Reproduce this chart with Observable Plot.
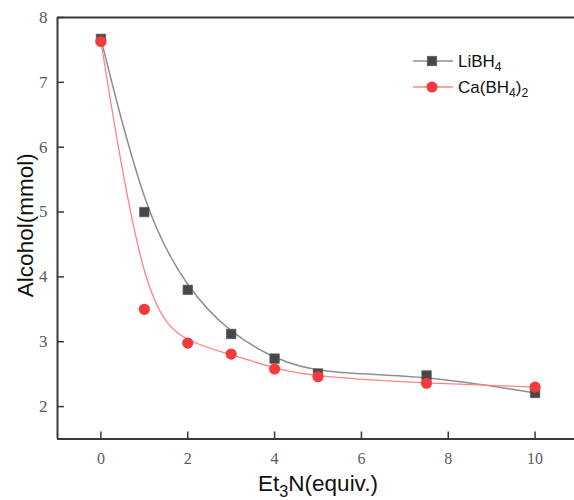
<!DOCTYPE html>
<html>
<head>
<meta charset="utf-8">
<script src="https://cdn.jsdelivr.net/npm/d3@7"></script>
<script src="https://cdn.jsdelivr.net/npm/@observablehq/plot@0.6"></script>
<style>
  html, body { margin: 0; padding: 0; background: #fff; }
  #chart { width: 574px; height: 500px; overflow: hidden; }
</style>
</head>
<body>
<div id="chart"></div>
<script>
// Data
const et3n = [0, 1, 2, 3, 4, 5, 7.5, 10];
const libh4 = [7.67, 5.00, 3.80, 3.12, 2.74, 2.51, 2.48, 2.21];
const cabh4 = [7.63, 3.50, 2.98, 2.81, 2.58, 2.46, 2.36, 2.30];
const xTicks = [0, 2, 4, 6, 8, 10];
const yTicks = [2, 3, 4, 5, 6, 7, 8];
const seriesNames = ["LiBH_4", "Ca(BH_4)_2"];
const xTitle = "Et_3N(equiv.)";
const yTitle = "Alcohol(mmol)";

const li = et3n.map((x, i) => ({x, y: libh4[i]}));
const ca = et3n.map((x, i) => ({x, y: cabh4[i]}));

const grayLine = "#8f8f8f", grayFill = "#474747";
const redLine = "#ff8585", redFill = "#f43a3d";
const axisColor = "#3a3a3a";

const W = 574, H = 500, mL = 57, mT = 17, mB = 61.5;
const frameW = W - mL, frameH = H - mT - mB;

const plot = Plot.plot({
  width: W, height: H,
  marginLeft: mL, marginTop: mT, marginBottom: mB, marginRight: 0,
  style: {background: "#fff", overflow: "hidden"},
  x: {domain: [-1, 11], range: [mL, 578]},
  y: {domain: [1.5, 8]},
  marks: [
    // frame (left, top, bottom; right edge is cropped off in the reference)
    Plot.ruleX([-1], {stroke: axisColor, strokeWidth: 2}),
    Plot.ruleY([1.5, 8], {stroke: axisColor, strokeWidth: 2}),
    // inward ticks
    Plot.tickX(xTicks, {x: d => d, stroke: axisColor, strokeWidth: 1.5, insetTop: frameH - 7}),
    Plot.tickY(yTicks, {y: d => d, stroke: axisColor, strokeWidth: 1.5, insetRight: frameW - 7}),
    // tick labels
    Plot.axisX(xTicks, {tickSize: 0, tickPadding: 14, label: null, tickFormat: d => String(d), fontSize: 16, fontFamily: "Liberation Serif", fill: "#5a5a5a"}),
    Plot.axisY(yTicks, {tickSize: 0, tickPadding: 10, label: null, tickFormat: d => String(d), fontSize: 17, fontFamily: "Liberation Serif", fill: "#5a5a5a"}),
    // curves
    Plot.line(li, {x: "x", y: "y", curve: "basis", stroke: grayLine, strokeWidth: 1.5}),
    Plot.dot(li, {x: "x", y: "y", symbol: "square", r: 5.3, fill: grayFill, stroke: "#5c5c5c", strokeWidth: 0.8}),
    Plot.line(ca, {x: "x", y: "y", curve: "basis", stroke: redLine, strokeWidth: 1.3}),
    Plot.dot(ca, {x: "x", y: "y", r: 5.6, fill: redFill, stroke: "none"}),
    // axis titles
    Plot.text([xTitle], {frameAnchor: "bottom", lineAnchor: "middle", textAnchor: "middle", dx: 2, dy: 44.5, fontSize: 22.5, fontFamily: "Liberation Sans", fill: "#111"}),
    Plot.text([yTitle], {frameAnchor: "left", lineAnchor: "middle", textAnchor: "middle", dx: -32, dy: -3, rotate: -90, fontSize: 22.5, fontFamily: "Liberation Sans", fill: "#111"})
  ]
});

document.getElementById("chart").appendChild(plot);

// legend
const svg = d3.select(plot);
const leg = svg.append("g").attr("class", "legend").attr("text-anchor", "start");
const rows = [
  {name: seriesNames[0], line: grayLine, fill: grayFill, sym: "square", y: 61},
  {name: seriesNames[1], line: redLine, fill: redFill, sym: "circle", y: 87}
];
rows.forEach(r => {
  leg.append("line").attr("x1", 413).attr("x2", 453).attr("y1", r.y).attr("y2", r.y)
    .attr("stroke", r.line).attr("stroke-width", 1.4);
  if (r.sym === "square") {
    leg.append("rect").attr("x", 432 - 4.7).attr("y", r.y - 4.7).attr("width", 9.4).attr("height", 9.4)
      .attr("fill", r.fill).attr("stroke", "#5c5c5c").attr("stroke-width", 0.8);
  } else {
    leg.append("circle").attr("cx", 432).attr("cy", r.y).attr("r", 5.6).attr("fill", r.fill);
  }
  leg.append("text").attr("x", 458).attr("y", r.y).attr("dy", "0.36em")
    .attr("text-anchor", "start")
    .attr("font-family", "Liberation Sans").attr("font-size", 17).attr("fill", "#111")
    .text(r.name);
});

// subscripts: "_X" -> subscript X
svg.selectAll("text").each(function() {
  const el = this;
  if (el.querySelector("tspan")) {
    el.querySelectorAll("tspan").forEach(t => fix(t));
  } else fix(el);
  function fix(node) {
    const s = node.textContent;
    if (!s.includes("_")) return;
    const fs = parseFloat(getComputedStyle(node).fontSize) || 16;
    node.textContent = "";
    const parts = s.split(/(_.)/);
    parts.forEach(p => {
      if (!p) return;
      const ns = "http://www.w3.org/2000/svg";
      const t = document.createElementNS(ns, "tspan");
      if (p.startsWith("_")) {
        t.textContent = p.slice(1);
        t.setAttribute("font-size", (fs * 0.72).toFixed(1));
        t.setAttribute("baseline-shift", (-fs * 0.25).toFixed(1));
      } else {
        t.textContent = p;
      }
      node.appendChild(t);
    });
  }
});
</script>
</body>
</html>
